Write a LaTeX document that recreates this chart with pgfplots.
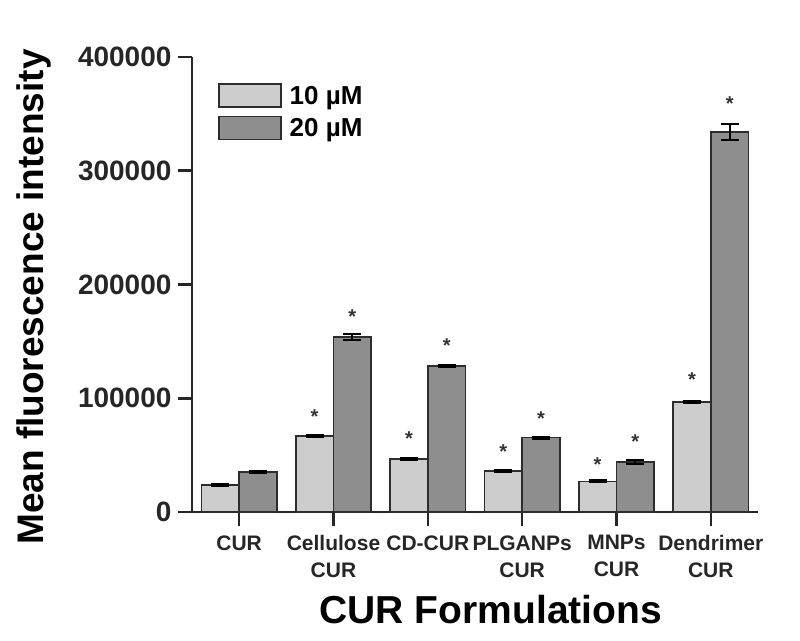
\documentclass[border=0pt]{standalone}
\usepackage{pgfplots}
\pgfplotsset{compat=1.18}
\usepackage{fontspec}
\setmainfont{Liberation Sans}
\definecolor{lightbar}{RGB}{205,205,205}
\definecolor{darkbar}{RGB}{142,142,142}
\definecolor{barline}{RGB}{45,45,45}
\begin{document}
\begin{tikzpicture}
\begin{axis}[
  name=ax,
  scale only axis,
  width=566pt, height=455pt,
  xmin=-0.5, xmax=5.5, ymin=0, ymax=400000,
  axis lines=left,
  axis line style={-, line width=2.5pt, black!85},
  tick style={line width=2.5pt, black!85},
  major tick length=14pt,
  tick align=outside,
  clip=false,
  xtick={0,1,2,3,4,5},
  xticklabels={CUR,{Cellulose\\CUR},CD-CUR,{PLGANPs\\CUR},{MNPs\\CUR},{Dendrimer\\CUR}},
  xticklabel style={align=center, font=\fontsize{21}{27}\selectfont\bfseries, text=black!85, yshift=-6pt},
  ytick={0,100000,200000,300000,400000},
  yticklabels={0,100000,200000,300000,400000},
  yticklabel style={font=\fontsize{28}{28}\selectfont\bfseries, text=black!85, xshift=-3pt},
  scaled y ticks=false,
  every axis y label/.style={at={(axis description cs:-0.263,0.4725)}, anchor=base, rotate=90},
  ylabel={\fontsize{37}{37}\selectfont\bfseries Mean fluorescence intensity},
  every axis x label/.style={at={(axis description cs:0.528,-0.244)}, anchor=base},
  xlabel={\fontsize{39}{39}\selectfont\bfseries CUR Formulations},
  legend style={at={(axis description cs:0,1)}, anchor=north west, xshift=26pt, yshift=-26pt,
    draw=none, fill=none, inner sep=0pt, row sep=8pt,
    font=\fontsize{26}{26}\selectfont\bfseries,
    /tikz/every odd column/.append style={column sep=6pt}},
  legend cell align=left,
]
\coordinate (o) at (rel axis cs:0,0);
\addplot[ybar, bar width=0.4, bar shift=0, fill=lightbar, draw=barline, line width=1.5pt,
  legend image code/.code={\draw[fill=lightbar, draw=barline, line width=1.5pt] (0pt,-11pt) rectangle (62pt,12pt);},
  error bars/.cd, y dir=both, y explicit,
  error bar style={line width=2pt, black},
  error mark options={rotate=90, line width=2pt, mark size=9pt, black}]
  table[x=x, y=y, y error=e] {
x y e
-0.2 23700 1000
0.8 66800 1000
1.8 46600 800
2.8 36000 1000
3.8 27000 800
4.8 96700 1000
};
\addlegendentry{10 µM}
\addplot[ybar, bar width=0.4, bar shift=0, fill=darkbar, draw=barline, line width=1.5pt,
  legend image code/.code={\draw[fill=darkbar, draw=barline, line width=1.5pt] (0pt,-11pt) rectangle (62pt,12pt);},
  error bars/.cd, y dir=both, y explicit,
  error bar style={line width=2pt, black},
  error mark options={rotate=90, line width=2pt, mark size=9pt, black}]
  table[x=x, y=y, y error=e] {
x y e
0.2 35200 1000
1.2 153800 2500
2.2 128400 1000
3.2 65300 1000
4.2 44000 1500
5.2 334000 7000
};
\addlegendentry{20 µM}
\addplot[draw=none, mark=none, forget plot,
  nodes near coords={\bfseries *},
  every node near coord/.style={anchor=base, yshift=-11pt, font=\fontsize{20}{20}\selectfont, text=black!80}]
  coordinates {(0.8,87900) (1.2,175800) (1.8,67700) (2.2,149500) (2.8,56300) (3.2,85300) (3.8,45700) (4.2,65900) (4.8,120400) (5.2,363000)};
\end{axis}
\path (o) ++(-192pt,-128pt) rectangle ++(800pt,640pt);
\end{tikzpicture}
\end{document}
